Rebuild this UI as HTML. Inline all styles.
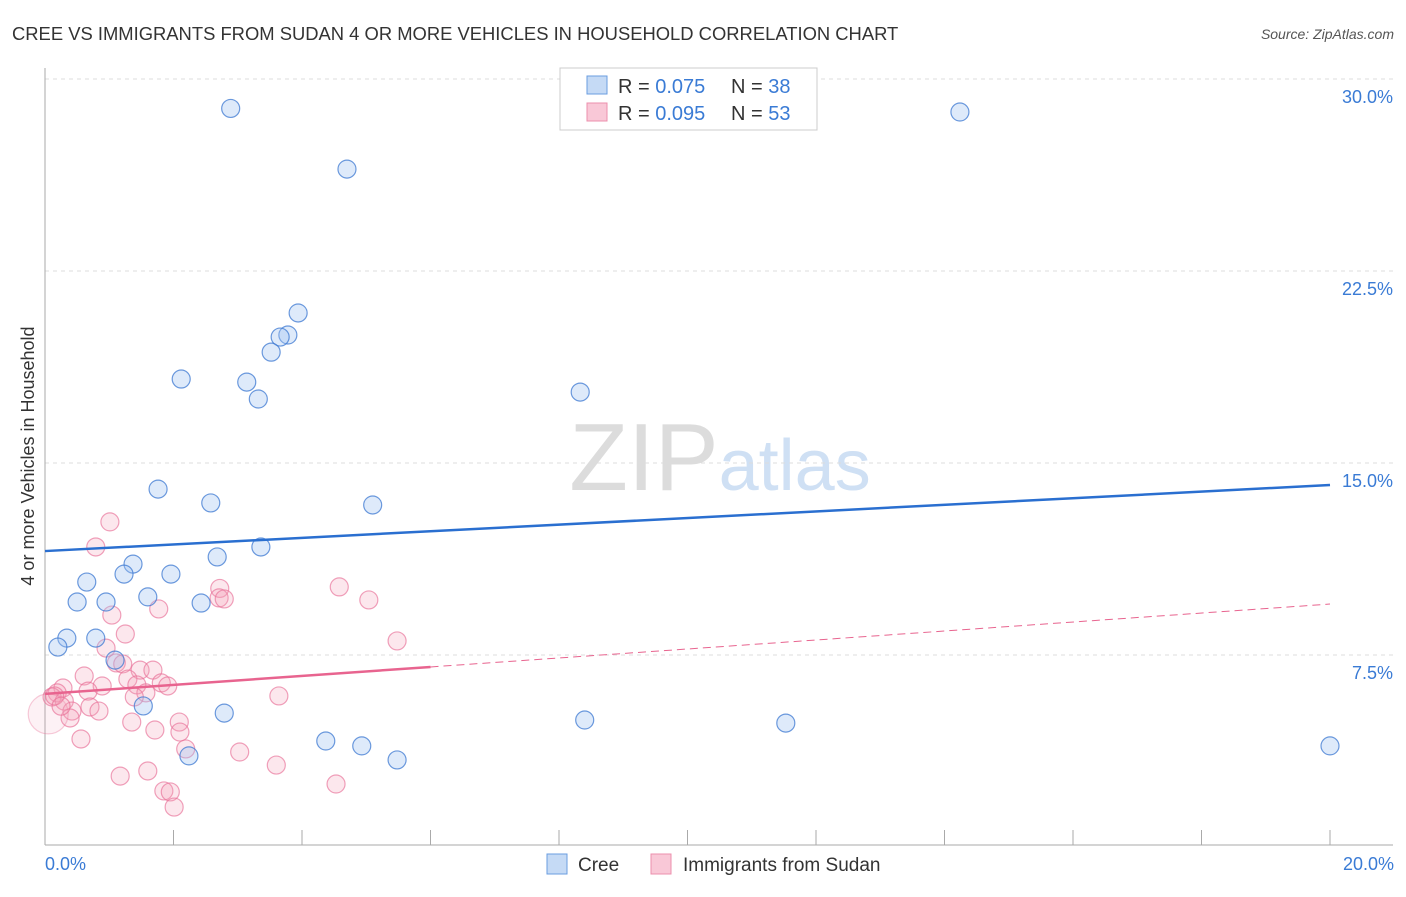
<!DOCTYPE html>
<html><head><meta charset="utf-8"><style>
body{margin:0;background:#fff;font-family:"Liberation Sans",sans-serif;}
svg text{font-family:"Liberation Sans",sans-serif;}
</style></head><body>
<svg id="c" width="1406" height="892" xmlns="http://www.w3.org/2000/svg">
<text x="12" y="40" font-size="18.4" fill="#333">CREE VS IMMIGRANTS FROM SUDAN 4 OR MORE VEHICLES IN HOUSEHOLD CORRELATION CHART</text>
<text x="1394" y="39" font-size="14" fill="#555" font-style="italic" text-anchor="end">Source: ZipAtlas.com</text>
<text x="720" y="490" font-size="96" fill="#ddd" text-anchor="middle" font-family="Liberation Serif"><tspan fill="#dcdcdc">ZIP</tspan><tspan fill="#cfe0f4" font-family="Liberation Sans" font-size="72">atlas</tspan></text>
<g id="grid"></g>
<g id="marks"></g>
<text transform="translate(34,456) rotate(-90)" font-size="18" fill="#333" text-anchor="middle">4 or more Vehicles in Household</text>
<text x="45" y="870" font-size="18" fill="#3a7bd5">0.0%</text>
<text x="1394" y="870" font-size="18" fill="#3a7bd5" text-anchor="end">20.0%</text>
<g>
<rect x="560" y="68" width="257" height="62" fill="#fff" stroke="#ccc"/>
<rect x="587" y="76" width="20" height="18" fill="#c5daf5" stroke="#6a9de0"/>
<rect x="587" y="103" width="20" height="18" fill="#f9c8d7" stroke="#ec8fac"/>
<text x="618" y="93" font-size="20" fill="#333">R = <tspan fill="#3a7bd5">0.075</tspan></text>
<text x="731" y="93" font-size="20" fill="#333">N = <tspan fill="#3a7bd5">38</tspan></text>
<text x="618" y="120" font-size="20" fill="#333">R = <tspan fill="#3a7bd5">0.095</tspan></text>
<text x="731" y="120" font-size="20" fill="#333">N = <tspan fill="#3a7bd5">53</tspan></text>
</g>
<g>
<rect x="547" y="854" width="20" height="20" fill="#c5daf5" stroke="#6a9de0"/>
<text x="578" y="871" font-size="19" fill="#333">Cree</text>
<rect x="651" y="854" width="20" height="20" fill="#f9c8d7" stroke="#ec8fac"/>
<text x="683" y="871" font-size="19" fill="#333">Immigrants from Sudan</text>
</g>
</svg>
<script>
const yTicks=[7.5,15,22.5,30];
const yTickLabels=["7.5%","15.0%","22.5%","30.0%"];
const xTicks=[0,2,4,6,8,10,12,14,16,18,20];
const creeX=[2.89,4.70,14.24,3.94,3.78,3.66,3.52,2.12,3.14,3.32,8.33,1.76,2.58,5.10,3.36,2.68,1.37,1.23,1.96,0.65,1.60,0.50,0.95,2.43,0.34,0.79,0.20,1.09,1.53,2.79,8.40,11.53,4.37,4.93,5.48,2.24,20.0];
const creeY=[28.85,26.48,28.71,20.86,20.0,19.92,19.33,18.28,18.16,17.5,17.77,13.98,13.44,13.36,11.72,11.33,11.05,10.66,10.66,10.35,9.77,9.57,9.57,9.53,8.16,8.16,7.81,7.30,5.51,5.23,4.96,4.84,4.14,3.95,3.40,3.56,3.95];
const sudanX=[1.01,0.79,4.58,2.72,2.71,2.79,5.04,1.04,1.77,1.25,5.48,0.95,1.11,1.21,0.61,1.48,1.68,1.81,1.91,1.29,1.43,0.89,0.67,0.28,0.19,0.11,0.30,0.42,1.57,1.39,3.64,0.70,0.84,0.39,1.35,2.09,1.71,2.10,0.56,2.19,3.03,3.60,1.60,1.17,1.85,1.95,2.01,4.53,0.05,0.15,0.25];
const sudanY=[12.70,11.72,10.16,10.1,9.73,9.69,9.65,9.06,9.3,8.32,8.05,7.77,7.19,7.15,6.68,6.91,6.91,6.41,6.29,6.56,6.33,6.29,6.09,6.21,6.02,5.86,5.70,5.31,6.02,5.86,5.90,5.47,5.31,5.04,4.88,4.88,4.57,4.49,4.22,3.83,3.71,3.20,2.97,2.77,2.19,2.15,1.56,2.46,5.2,5.9,5.5];
const creeTrend=[11.56,14.14];
const sudanTrend=[5.98,9.49];
const sudanSolidEnd=6;
const X=v=>45+v/20*1285, Y=v=>655-(v-7.5)*25.6;
const NS="http://www.w3.org/2000/svg";
const grid=document.getElementById('grid'), marks=document.getElementById('marks');
function mk(tag,attrs,parent){const e=document.createElementNS(NS,tag);for(const k in attrs)e.setAttribute(k,attrs[k]);parent.appendChild(e);return e;}
yTicks.forEach((t,i)=>{
 const l=mk('line',{x1:45,x2:1393,y1:Y(t),y2:Y(t),stroke:'#ddd','stroke-dasharray':'4,4'},grid);
 
 
 const tx=mk('text',{x:1393,y:Y(t)+24,'font-size':18,fill:'#3a7bd5','text-anchor':'end'},grid);
 tx.textContent=yTickLabels[i];
 
 
});
const ax=mk('line',{x1:45,x2:1393,y1:845,y2:845,stroke:'#aaa'},grid);


const ay=mk('line',{x1:45,x2:45,y1:68,y2:845,stroke:'#aaa'},grid);


xTicks.forEach(t=>{const l=mk('line',{x1:X(t),x2:X(t),y1:830,y2:845,stroke:'#aaa'},grid);
 
 });
sudanX.forEach((x,i)=>{const big=i==48;const c=mk('circle',{cx:X(x),cy:Y(sudanY[i]),r:big?20:9,fill:big?'rgba(244,160,185,0.15)':'rgba(244,160,185,0.25)',stroke:big?'rgba(232,110,150,0.35)':'rgba(232,110,150,0.65)','stroke-width':1.2},marks);
 
 });
creeX.forEach((x,i)=>{const c=mk('circle',{cx:X(x),cy:Y(creeY[i]),r:9,fill:'rgba(160,195,240,0.35)',stroke:'rgba(60,120,210,0.75)','stroke-width':1.2},marks);
 
 });
const bl=mk('line',{x1:X(0),y1:Y(creeTrend[0]),x2:X(20),y2:Y(creeTrend[1]),stroke:'#2a6fd0','stroke-width':2.5},marks);


const sm=sudanTrend[0]+(sudanTrend[1]-sudanTrend[0])*sudanSolidEnd/20;
const pl=mk('line',{x1:X(0),y1:Y(sudanTrend[0]),x2:X(sudanSolidEnd),y2:Y(sm),stroke:'#e8648f','stroke-width':2.5},marks);


const pd=mk('line',{x1:X(sudanSolidEnd),y1:Y(sm),x2:X(20),y2:Y(sudanTrend[1]),stroke:'#e8648f','stroke-width':1,'stroke-dasharray':'8,5'},marks);


</script>
</body></html>
